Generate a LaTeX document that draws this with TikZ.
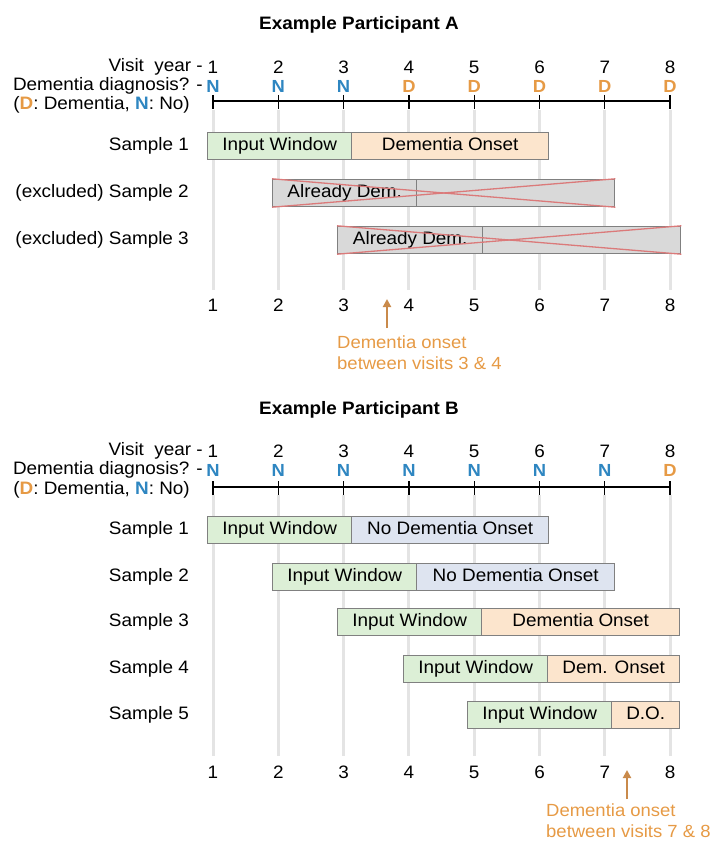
\documentclass[tikz,border=0pt]{standalone}
\usepackage{fontspec}
\setmainfont[FakeStretch=1.05]{Liberation Sans}
\usetikzlibrary{arrows.meta}
\definecolor{ngreen}{HTML}{DCEFD6}
\definecolor{npeach}{HTML}{FCE5CD}
\definecolor{nblue}{HTML}{DEE4F0}
\definecolor{ngray}{HTML}{D9D9D9}
\definecolor{nborder}{HTML}{808080}
\definecolor{vline}{HTML}{E4E4E4}
\definecolor{dorange}{HTML}{E69A45}
\definecolor{nbluel}{HTML}{2E86C1}
\definecolor{xred}{HTML}{DB7A7A}
\definecolor{arrowc}{HTML}{C98A4B}
\tikzset{
  lbl/.style={font=\fontsize{18}{21.5}\selectfont, inner sep=0pt},
  ttl/.style={font=\bfseries\fontsize{18}{20}\selectfont, inner sep=0pt},
  diag/.style={font=\bfseries\fontsize{17.5}{19}\selectfont, inner sep=0pt},
  seg/.style={draw=nborder, line width=1.4pt, minimum height=27pt, inner sep=0pt,
    anchor=west, text height=13pt, text depth=4pt, font=\fontsize{18}{20}\selectfont},
  inwin/.style={seg, fill=ngreen},
  onset/.style={seg, fill=npeach},
  noonset/.style={seg, fill=nblue},
  excl/.style={seg, fill=ngray},
  gridline/.style={vline, line width=3pt},
  axisline/.style={black, line width=2pt},
  tickline/.style={black, line width=1.3pt},
  xline/.style={xred, line width=1.3pt},
  onsetarrow/.style={arrowc, line width=2pt, -{Triangle[length=8pt,width=8pt]}},
  note/.style={text=dorange, anchor=west, align=left, inner sep=0pt,
    font=\fontsize{17.6}{21}\selectfont},
}
\begin{document}
\begin{tikzpicture}[x=1pt,y=-1pt]
\useasboundingbox (0,0) rectangle (718,842);

% ---------- grid lines ----------
\foreach \k in {1,...,8}{
  \pgfmathsetmacro\vx{213+65.3*(\k-1)}
  \coordinate (gA\k t) at (\vx,110);
  \coordinate (gA\k b) at (\vx,290);
  \draw[gridline] (gA\k t) -- (gA\k b);
  \coordinate (gB\k t) at (\vx,495);
  \draw[gridline] (gB\k t) -- (\vx,756);
}

% ================= Panel A =================
\node[ttl] (titleA) at (359,25) {Example Participant A};
\node[lbl, anchor=east] (vyA) at (203,67) {Visit\ \ year -};
\node[lbl, anchor=east] (ddA) at (203,86) {Dementia diagnosis? -};
\node[lbl, anchor=east] (legA) at (190,105) {(\textcolor{dorange}{\textbf{D}}: Dementia, \textcolor{nbluel}{\textbf{N}}: No)};
\foreach \k/\c/\l in {1/nbluel/N,2/nbluel/N,3/nbluel/N,4/dorange/D,5/dorange/D,6/dorange/D,7/dorange/D,8/dorange/D}{
  \pgfmathsetmacro\vx{213+65.3*(\k-1)}
  \node[lbl] (yA\k) at (\vx,67) {\k};
  \node[diag, text=\c] (dA\k) at (\vx,86) {\l};
  \coordinate (axA\k) at (\vx,101);
  \draw[tickline] (\vx,95) -- (\vx,109);
  \node[lbl] (bA\k) at (\vx,305) {\k};
}
\draw[axisline] (axA1) -- (axA8);

% samples
\node[lbl, anchor=east] (lA1) at (189,146) {Sample 1};
\node[lbl, anchor=east] (lA2) at (189,193) {(excluded) Sample 2};
\node[lbl, anchor=east] (lA3) at (189,240) {(excluded) Sample 3};

\node[inwin, minimum width=144pt] (a1l) at (207,146) {Input Window};
\node[onset, minimum width=197pt] (a1r) at (351,146) {Dementia Onset};

\node[excl, minimum width=144pt] (a2l) at (272,193) {Already Dem.};
\node[excl, minimum width=198pt] (a2r) at (416,193) {};
\draw[xline] (a2l.north west) -- (a2r.south east);
\draw[xline] (a2l.south west) -- (a2r.north east);

\node[excl, minimum width=145pt] (a3l) at (337,240) {Already Dem.};
\node[excl, minimum width=198pt] (a3r) at (482,240) {};
\draw[xline] (a3l.north west) -- (a3r.south east);
\draw[xline] (a3l.south west) -- (a3r.north east);

\coordinate (arA0) at (387,328);
\coordinate (arA1) at (387,299);
\draw[onsetarrow] (arA0) -- (arA1);
\node[note] (nA) at (337,353) {Dementia onset\\between visits 3 \& 4};

% ================= Panel B =================
\node[ttl] (titleB) at (359,410) {Example Participant B};
\node[lbl, anchor=east] (vyB) at (203,451) {Visit\ \ year -};
\node[lbl, anchor=east] (ddB) at (203,470) {Dementia diagnosis? -};
\node[lbl, anchor=east] (legB) at (190,490) {(\textcolor{dorange}{\textbf{D}}: Dementia, \textcolor{nbluel}{\textbf{N}}: No)};
\foreach \k/\c/\l in {1/nbluel/N,2/nbluel/N,3/nbluel/N,4/nbluel/N,5/nbluel/N,6/nbluel/N,7/nbluel/N,8/dorange/D}{
  \pgfmathsetmacro\vx{213+65.3*(\k-1)}
  \node[lbl] (yB\k) at (\vx,451) {\k};
  \node[diag, text=\c] (dB\k) at (\vx,470) {\l};
  \coordinate (axB\k) at (\vx,487);
  \draw[tickline] (\vx,481) -- (\vx,495);
  \node[lbl] (bB\k) at (\vx,772) {\k};
}
\draw[axisline] (axB1) -- (axB8);

\node[lbl, anchor=east] (lB1) at (189,530) {Sample 1};
\node[lbl, anchor=east] (lB2) at (189,577) {Sample 2};
\node[lbl, anchor=east] (lB3) at (189,622) {Sample 3};
\node[lbl, anchor=east] (lB4) at (189,669) {Sample 4};
\node[lbl, anchor=east] (lB5) at (189,715) {Sample 5};

\node[inwin, minimum width=144pt] (b1l) at (207,530) {Input Window};
\node[noonset, minimum width=197pt] (b1r) at (351,530) {No Dementia Onset};
\node[inwin, minimum width=144pt] (b2l) at (272,577) {Input Window};
\node[noonset, minimum width=198pt] (b2r) at (416,577) {No Dementia Onset};
\node[inwin, minimum width=144pt] (b3l) at (337,622) {Input Window};
\node[onset, minimum width=198pt] (b3r) at (481,622) {Dementia Onset};
\node[inwin, minimum width=144pt] (b4l) at (403,669) {Input Window};
\node[onset, minimum width=132pt] (b4r) at (547,669) {Dem. Onset};
\node[inwin, minimum width=144pt] (b5l) at (467,715) {Input Window};
\node[onset, minimum width=68pt] (b5r) at (611,715) {D.O.};

\coordinate (arB0) at (627,799);
\coordinate (arB1) at (627,770);
\draw[onsetarrow] (arB0) -- (arB1);
\node[note] (nB) at (546,821) {Dementia onset\\between visits 7 \& 8};
\end{tikzpicture}
\end{document}
